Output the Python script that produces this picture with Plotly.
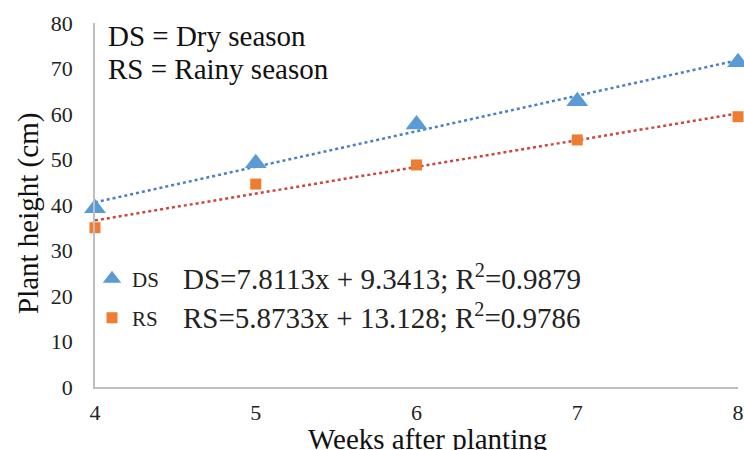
import plotly.graph_objects as go

weeks = [4, 5, 6, 7, 8]
ds_height = [39.3, 49.2, 57.7, 62.8, 71.4]
rs_height = [35.0, 44.6, 48.8, 54.3, 59.4]
ds_coef = [7.8113, 9.3413]
rs_coef = [5.8733, 13.128]
ds_r2 = 0.9879
rs_r2 = 0.9786
x_ticks = [4, 5, 6, 7, 8]
y_ticks = [0, 10, 20, 30, 40, 50, 60, 70, 80]
x_title = "Weeks after planting"
y_title = "Plant height (cm)"

FONT = "Liberation Serif"
ds_col = "#5B9BD5"
rs_col = "#ED7D31"

W, H = 744, 450
L, R, T, B = 95, 6, 23, 63
PH = H - T - B


def py(pix):
    return (H - B - pix) / PH


def px(pix):
    return (pix - L) / (W - L - R)


trend_x = [weeks[0], weeks[-1]]
ds_trend = [ds_coef[0] * x + ds_coef[1] for x in trend_x]
rs_trend = [rs_coef[0] * x + rs_coef[1] for x in trend_x]

fig = go.Figure()
fig.add_trace(go.Scatter(x=trend_x, y=ds_trend, mode="lines", showlegend=False,
                         line=dict(color="#4A7EC8", width=2.5, dash="dot"), cliponaxis=False))
fig.add_trace(go.Scatter(x=trend_x, y=rs_trend, mode="lines", showlegend=False,
                         line=dict(color="#C9473F", width=2.5, dash="dot"), cliponaxis=False))
fig.add_trace(go.Scatter(x=weeks, y=ds_height, mode="markers", name="DS", legend="legend",
                         marker=dict(symbol="triangle-up", size=19, color=ds_col), cliponaxis=False))
fig.add_trace(go.Scatter(x=weeks, y=rs_height, mode="markers", name="RS", legend="legend2",
                         marker=dict(symbol="square", size=11, color=rs_col), cliponaxis=False))

eq_font = dict(family=FONT, size=29, color="#222")
fig.add_annotation(xref="paper", yref="paper", x=px(181), y=py(277), xanchor="left", yanchor="middle",
                   text=f"DS={ds_coef[0]}x + {ds_coef[1]}; R<sup>2</sup>={ds_r2}", showarrow=False, font=eq_font)
fig.add_annotation(xref="paper", yref="paper", x=px(181), y=py(316), xanchor="left", yanchor="middle",
                   text=f"RS={rs_coef[0]}x + {rs_coef[1]}; R<sup>2</sup>={rs_r2}", showarrow=False, font=eq_font)
fig.add_annotation(xref="paper", yref="paper", x=px(106), y=py(36), xanchor="left", yanchor="middle",
                   text="DS = Dry season", showarrow=False, font=dict(family=FONT, size=29, color="#111"))
fig.add_annotation(xref="paper", yref="paper", x=px(106), y=py(69), xanchor="left", yanchor="middle",
                   text="RS = Rainy season", showarrow=False, font=dict(family=FONT, size=29, color="#111"))
# axis titles
fig.add_annotation(xref="paper", yref="paper", x=px(427), y=py(439), xanchor="center", yanchor="middle",
                   text=x_title, showarrow=False, font=dict(family=FONT, size=29, color="#111"))
fig.add_annotation(xref="paper", yref="paper", x=px(28), y=py(214), xanchor="center", yanchor="middle",
                   text=y_title, textangle=-90, showarrow=False, font=dict(family=FONT, size=29, color="#111"))

leg_common = dict(font=dict(family=FONT, size=21, color="#222"), bgcolor="rgba(0,0,0,0)",
                  xanchor="left", yanchor="middle", itemwidth=30)
fig.update_layout(
    width=W, height=H,
    margin=dict(l=L, r=R, t=T, b=B, autoexpand=False),
    paper_bgcolor="white", plot_bgcolor="white",
    legend=dict(x=px(92), y=py(279), **leg_common),
    legend2=dict(x=px(92), y=py(318), **leg_common),
    xaxis=dict(range=[4, 8], tickvals=x_ticks, showgrid=False, zeroline=False, automargin=False,
               showline=True, linecolor="#BFBFBF", linewidth=1.5, ticks="",
               ticklabeloverflow="allow", ticklabelstandoff=5,
               tickfont=dict(family=FONT, size=22, color="#222")),
    yaxis=dict(range=[0, 80], tickvals=y_ticks, showgrid=False, zeroline=False, automargin=False,
               showline=True, linecolor="#BFBFBF", linewidth=1.5, ticks="",
               ticklabelstandoff=16,
               tickfont=dict(family=FONT, size=22, color="#222")),
)

fig.write_html("out.html", config={"displayModeBar": False},
               post_script="document.body.style.margin='0';document.body.style.overflow='hidden';")
